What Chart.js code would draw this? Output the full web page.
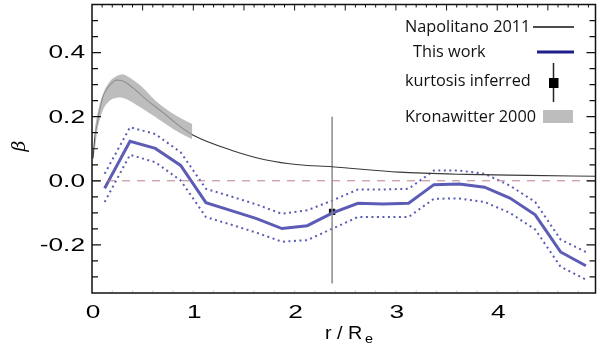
<!DOCTYPE html>
<html>
<head>
<meta charset="utf-8">
<script src="https://cdn.jsdelivr.net/npm/chart.js@4"></script>
<style>
  html, body { margin: 0; padding: 0; background: #fff; }
  #wrap { width: 600px; height: 347px; }
</style>
</head>
<body>
<div id="wrap"><canvas id="betaChart" width="600" height="347"></canvas></div>
<script>
// Anisotropy profile beta(r)

// This work: binned profile with dotted 1-sigma envelope
const rBins = [0.125, 0.375, 0.625, 0.875, 1.125, 1.375, 1.625, 1.875, 2.125, 2.375,
               2.625, 2.875, 3.125, 3.375, 3.625, 3.875, 4.125, 4.375, 4.625, 4.875];
const betaThisWork = [-0.023, 0.123, 0.101, 0.048, -0.068, -0.093, -0.118, -0.149, -0.140, -0.100,
                      -0.070, -0.072, -0.070, -0.012, -0.010, -0.020, -0.054, -0.106, -0.222, -0.265];
const betaUpper = [0.022, 0.167, 0.146, 0.089, -0.025, -0.049, -0.074, -0.103, -0.092, -0.061,
                   -0.027, -0.027, -0.025, 0.032, 0.032, 0.022, -0.015, -0.066, -0.183, -0.222];
const betaLower = [-0.066, 0.081, 0.058, 0.001, -0.113, -0.137, -0.162, -0.190, -0.185, -0.149,
                   -0.113, -0.113, -0.113, -0.056, -0.055, -0.066, -0.100, -0.152, -0.268, -0.308];

// Napolitano 2011 model curve
const rNapolitano = [0.01, 0.03, 0.057, 0.08, 0.106, 0.14, 0.17, 0.24, 0.30, 0.40, 0.53,
                     0.70, 0.86, 1.0, 1.39, 1.72, 2.04, 2.37, 3.03, 3.69, 4.3, 4.97];
const betaNapolitano = [0.07, 0.14, 0.187, 0.225, 0.26, 0.283, 0.296, 0.314, 0.312, 0.291, 0.255,
                        0.213, 0.172, 0.142, 0.094, 0.065, 0.05, 0.044, 0.027, 0.02, 0.017, 0.014];

// Kronawitter 2000 band
const rKronawitter = [0.025, 0.06, 0.12, 0.2, 0.29, 0.37, 0.5, 0.63, 0.76, 0.86, 0.99];
const kronawitterHigh = [0.156, 0.22, 0.28, 0.318, 0.332, 0.322, 0.291, 0.249, 0.218, 0.198, 0.177];
const kronawitterLow = [0.085, 0.17, 0.229, 0.255, 0.26, 0.25, 0.225, 0.198, 0.17, 0.151, 0.13];

// kurtosis inferred point with error bar
const rKurtosis = 2.37;
const betaKurtosis = -0.097;
const kurtosisErr = [-0.32, 0.20];

// axes
const xRange = [0, 4.97];
const yRange = [-0.35, 0.55];
const xTickLabels = ['0', '1', '2', '3', '4'];
const yTickLabels = ['-0.2', '0.0', '0.2', '0.4'];

const BLUE = '#5c5cb6';

function pts(xs, ys) {
    return xs.map((x, i) => ({ x: x, y: ys[i] }));
}

// draws text stretched horizontally, like the wide labels of the figure
function stretchedText(ctx, text, x, y, align, sx) {
    ctx.save();
    ctx.translate(x, y);
    ctx.scale(sx, 1);
    ctx.textAlign = align;
    ctx.fillText(text, 0, 0);
    ctx.restore();
}

// frame, ticks and tick labels
const axesPlugin = {
    id: 'axesFrame',
    afterDatasetsDraw(chart) {
        const ctx = chart.ctx;
        const a = chart.chartArea;
        const xs = chart.scales.x;
        const ys = chart.scales.y;

        ctx.save();
        ctx.strokeStyle = '#111';
        ctx.lineWidth = 1.5;
        ctx.strokeRect(a.left, a.top, a.right - a.left, a.bottom - a.top);

        // y ticks, both sides, minor every 0.05
        ctx.lineWidth = 1.2;
        for (let k = -7; k <= 11; k++) {
            const v = k * 0.05;
            const py = ys.getPixelForValue(v);
            if (py <= a.top + 1 || py >= a.bottom - 1) continue;
            const len = (k % 4 === 0) ? 9 : 6;
            ctx.beginPath();
            ctx.moveTo(a.left, py); ctx.lineTo(a.left + len, py);
            ctx.moveTo(a.right, py); ctx.lineTo(a.right - len, py);
            ctx.stroke();
        }

        // x ticks on top every 0.1, faint ones on the bottom
        ctx.lineWidth = 1;
        for (let k = 1; k < 50; k++) {
            const px = xs.getPixelForValue(k * 0.1);
            if (px >= a.right - 1) continue;
            const len = (k % 5 === 0) ? 6 : 3;
            ctx.strokeStyle = '#111';
            ctx.beginPath();
            ctx.moveTo(px, a.top); ctx.lineTo(px, a.top + len);
            ctx.stroke();
            if (k % 2 === 0) {
                ctx.strokeStyle = '#c8c8c8';
                ctx.beginPath();
                ctx.moveTo(px, a.bottom - 1); ctx.lineTo(px, a.bottom - 2.5);
                ctx.stroke();
            }
        }

        // tick labels
        ctx.fillStyle = '#000';
        ctx.font = '17.5px "Liberation Sans", Arial, sans-serif';
        ctx.textBaseline = 'middle';
        yTickLabels.forEach(t => {
            stretchedText(ctx, t, 85, ys.getPixelForValue(parseFloat(t)) + 1, 'right', 1.5);
        });
        xTickLabels.forEach(t => {
            stretchedText(ctx, t, xs.getPixelForValue(parseFloat(t)) + 1, 313.5, 'center', 1.5);
        });

        // x title: r / R_e
        ctx.textBaseline = 'alphabetic';
        stretchedText(ctx, 'r / R', 325, 339, 'left', 1.13);
        ctx.font = '12px "Liberation Sans", Arial, sans-serif';
        stretchedText(ctx, 'e', 365, 343, 'left', 1.2);

        // y title: beta, rotated
        ctx.save();
        ctx.translate(20, 146);
        ctx.rotate(-Math.PI / 2);
        ctx.font = 'italic 19px "DejaVu Serif", serif';
        ctx.textAlign = 'center';
        ctx.textBaseline = 'middle';
        ctx.fillText('\u03B2', 0, 0);
        ctx.restore();

        ctx.restore();
    }
};

// legend in the upper right, text left and symbol right
const legendPlugin = {
    id: 'cornerLegend',
    afterDraw(chart) {
        const ctx = chart.ctx;
        ctx.save();
        ctx.fillStyle = '#111';
        ctx.font = '16.3px "Open Sans", sans-serif';
        ctx.textBaseline = 'middle';
        ctx.textAlign = 'left';
        ctx.fillText('Napolitano 2011', 405, 27);
        ctx.fillText('This work', 413, 52);
        ctx.fillText('kurtosis inferred', 405, 81);
        ctx.fillText('Kronawitter 2000', 405, 117);

        ctx.strokeStyle = '#111';
        ctx.lineWidth = 1.5;
        ctx.beginPath(); ctx.moveTo(533, 27); ctx.lineTo(574, 27); ctx.stroke();

        ctx.strokeStyle = '#1e1e8c';
        ctx.lineWidth = 3;
        ctx.beginPath(); ctx.moveTo(537, 52); ctx.lineTo(574, 52); ctx.stroke();

        ctx.strokeStyle = '#222';
        ctx.lineWidth = 1.5;
        ctx.beginPath(); ctx.moveTo(553.5, 63); ctx.lineTo(553.5, 102); ctx.stroke();
        ctx.fillStyle = '#000';
        ctx.fillRect(549, 78, 9.5, 10);

        ctx.fillStyle = '#bdbdbd';
        ctx.fillRect(543, 110, 30, 13);
        ctx.restore();
    }
};

const datasets = [
    {
        label: 'Kronawitter high',
        data: pts(rKronawitter, kronawitterHigh),
        showLine: true, borderWidth: 0, pointRadius: 0, tension: 0.3,
        backgroundColor: 'rgba(170,170,170,0.78)', borderColor: 'rgba(0,0,0,0)',
        fill: '+1'
    },
    {
        label: 'Kronawitter low',
        data: pts(rKronawitter, kronawitterLow),
        showLine: true, borderWidth: 0, pointRadius: 0, tension: 0.3,
        borderColor: 'rgba(0,0,0,0)', fill: false
    },
    {
        label: 'Napolitano 2011',
        data: pts(rNapolitano, betaNapolitano),
        showLine: true, borderColor: '#3a3a3a', borderWidth: 1.1, pointRadius: 0,
        cubicInterpolationMode: 'monotone', fill: false
    },
    {
        label: 'zero',
        data: [{ x: xRange[0], y: 0 }, { x: xRange[1], y: 0 }],
        showLine: true, borderColor: '#b8808c', borderWidth: 1, borderDash: [8, 7],
        pointRadius: 0, fill: false
    },
    {
        label: 'kurtosis error',
        data: [{ x: rKurtosis, y: kurtosisErr[0] }, { x: rKurtosis, y: kurtosisErr[1] }],
        showLine: true, borderColor: '#8a8a8a', borderWidth: 1.5, pointRadius: 0, fill: false
    },
    {
        label: 'upper',
        data: pts(rBins, betaUpper),
        showLine: true, borderColor: BLUE, borderWidth: 2, borderDash: [2, 3.5],
        pointRadius: 0, fill: false
    },
    {
        label: 'lower',
        data: pts(rBins, betaLower),
        showLine: true, borderColor: BLUE, borderWidth: 2, borderDash: [2, 3.5],
        pointRadius: 0, fill: false
    },
    {
        label: 'This work',
        data: pts(rBins, betaThisWork),
        showLine: true, borderColor: BLUE, borderWidth: 3, pointRadius: 0, fill: false
    },
    {
        label: 'kurtosis inferred',
        data: [{ x: rKurtosis, y: betaKurtosis }],
        showLine: false, pointStyle: 'rect', pointRadius: 4.5,
        backgroundColor: '#111', borderColor: '#111', borderWidth: 0
    }
];

new Chart(document.getElementById('betaChart'), {
    type: 'scatter',
    data: { datasets: datasets },
    options: {
        responsive: false,
        animation: false,
        layout: { padding: { left: 92, top: 3, right: 3, bottom: 54 } },
        plugins: { legend: { display: false }, tooltip: { enabled: false } },
        scales: {
            x: { type: 'linear', min: xRange[0], max: xRange[1], display: false },
            y: { type: 'linear', min: yRange[0], max: yRange[1], display: false }
        }
    },
    plugins: [axesPlugin, legendPlugin]
});
</script>
</body>
</html>
